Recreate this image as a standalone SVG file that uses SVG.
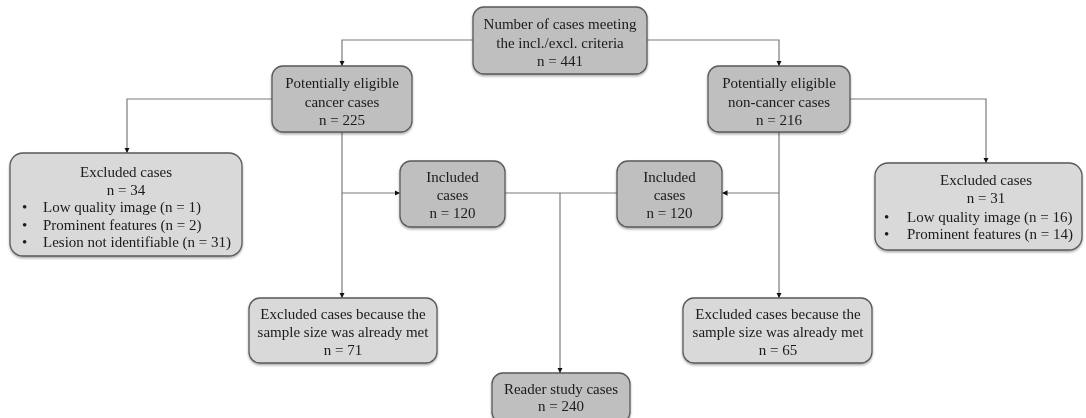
<svg xmlns="http://www.w3.org/2000/svg" width="1086" height="418" viewBox="0 0 1086 418">
<style>
.dk{fill:#bfbfbf;stroke:#5a5a5a;stroke-width:1.3}
.lt{fill:#d9d9d9;stroke:#5a5a5a;stroke-width:1.3}
text{font-family:"Liberation Serif","Times New Roman",serif;font-size:15px;fill:#1a1a1a}
.c{text-anchor:middle}
.ln{fill:none;stroke:#7a7a7a;stroke-width:1.2;marker-end:url(#ah)}
.ln2{fill:none;stroke:#7a7a7a;stroke-width:1.2}
</style>
<defs>
<marker id="ah" viewBox="0 0 10 10" refX="10" refY="5" markerWidth="5.5" markerHeight="5.5" orient="auto" markerUnits="userSpaceOnUse">
<path d="M0,0 L10,5 L0,10 z" fill="#111"/>
</marker>
<filter id="sh" x="-5%" y="-5%" width="110%" height="115%">
<feDropShadow dx="0" dy="1.5" stdDeviation="0.8" flood-color="#000" flood-opacity="0.35"/>
</filter>
</defs>
<g id="connectors">
<path class="ln" d="M473,40 H342 V66"/>
<path class="ln" d="M647,40 H779 V66"/>
<path class="ln" d="M272,99 H127 V153"/>
<path class="ln" d="M850,99 H986 V163"/>
<path class="ln" d="M342,132 V298"/>
<path class="ln" d="M779,132 V298"/>
<path class="ln" d="M342,193 H400"/>
<path class="ln" d="M779,193 H722"/>
<path class="ln2" d="M505,193 H617"/>
<path class="ln" d="M560,193 V373"/>
</g>
<g id="n-total" filter="url(#sh)">
<rect class="dk" x="473" y="7" width="174" height="67" rx="11"/>
<text class="c" x="560" y="29">Number of cases meeting</text>
<text class="c" x="560" y="47.5">the incl./excl. criteria</text>
<text class="c" x="560" y="66">n = 441</text>
</g>
<g id="n-cancer" filter="url(#sh)">
<rect class="dk" x="272" y="66" width="140" height="66" rx="11"/>
<text class="c" x="342" y="88">Potentially eligible</text>
<text class="c" x="342" y="106.5">cancer cases</text>
<text class="c" x="342" y="125">n = 225</text>
</g>
<g id="n-noncancer" filter="url(#sh)">
<rect class="dk" x="708" y="66" width="142" height="66" rx="11"/>
<text class="c" x="779" y="88">Potentially eligible</text>
<text class="c" x="779" y="106.5">non-cancer cases</text>
<text class="c" x="779" y="125">n = 216</text>
</g>
<g id="n-excl-left" filter="url(#sh)">
<rect class="lt" x="10" y="153" width="232" height="103" rx="13"/>
<text class="c" x="126" y="177">Excluded cases</text>
<text class="c" x="126" y="195">n = 34</text>
<text x="22" y="212">•</text><text x="43" y="212">Low quality image (n = 1)</text>
<text x="22" y="229.5">•</text><text x="43" y="229.5">Prominent features (n = 2)</text>
<text x="22" y="247">•</text><text x="43" y="247">Lesion not identifiable (n = 31)</text>
</g>
<g id="n-excl-right" filter="url(#sh)">
<rect class="lt" x="875" y="163" width="207" height="87" rx="13"/>
<text class="c" x="986" y="185">Excluded cases</text>
<text class="c" x="986" y="203">n = 31</text>
<text x="884" y="221.5">•</text><text x="907" y="221.5">Low quality image (n = 16)</text>
<text x="884" y="239">•</text><text x="907" y="239">Prominent features (n = 14)</text>
</g>
<g id="n-incl-left" filter="url(#sh)">
<rect class="dk" x="400" y="161" width="105" height="66" rx="11"/>
<text class="c" x="452.5" y="182">Included</text>
<text class="c" x="452.5" y="200">cases</text>
<text class="c" x="452.5" y="218">n = 120</text>
</g>
<g id="n-incl-right" filter="url(#sh)">
<rect class="dk" x="617" y="161" width="105" height="66" rx="11"/>
<text class="c" x="669.5" y="182">Included</text>
<text class="c" x="669.5" y="200">cases</text>
<text class="c" x="669.5" y="218">n = 120</text>
</g>
<g id="n-sample-left" filter="url(#sh)">
<rect class="lt" x="249" y="298" width="188" height="65" rx="11"/>
<text class="c" x="343" y="319">Excluded cases because the</text>
<text class="c" x="343" y="337">sample size was already met</text>
<text class="c" x="343" y="355">n = 71</text>
</g>
<g id="n-sample-right" filter="url(#sh)">
<rect class="lt" x="683" y="298" width="189" height="65" rx="11"/>
<text class="c" x="778" y="319">Excluded cases because the</text>
<text class="c" x="778" y="337">sample size was already met</text>
<text class="c" x="778" y="355">n = 65</text>
</g>
<g id="n-reader" filter="url(#sh)">
<rect class="dk" x="492" y="373" width="138" height="50" rx="11"/>
<text class="c" x="561" y="394">Reader study cases</text>
<text class="c" x="561" y="411">n = 240</text>
</g>
</svg>
